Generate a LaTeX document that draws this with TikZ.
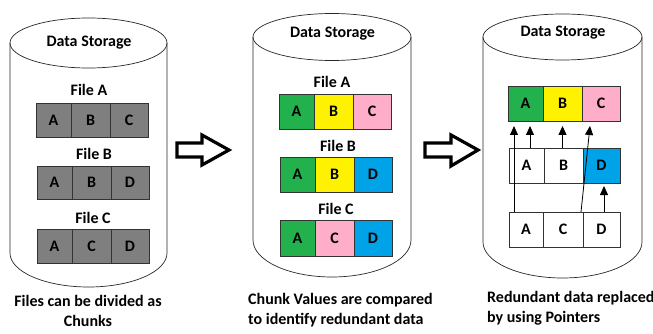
\documentclass[tikz,border=0pt]{standalone}
\usepackage{fontspec}
\setmainfont{Carlito}
\usetikzlibrary{arrows.meta}
\definecolor{cgray}{HTML}{7F7F7F}
\definecolor{cgreen}{HTML}{22B14C}
\definecolor{cyellow}{HTML}{FFF200}
\definecolor{cpink}{HTML}{FFAEC9}
\definecolor{cblue}{HTML}{00A2E8}
\newcommand\mycell[7]{%
  \node[cellbox, fill=#6, minimum width={(#3-#2)*1pt}, minimum height={(#5-#4)*1pt}]
    (#1) at ({(#2+#3)/2},{(#4+#5)/2}) {#7};}
\newcommand\mycyl[6]{% left, right, top center y, top ry, bottom y, bottom ry
  \pgfmathsetmacro\cx{(#1+#2)/2}\pgfmathsetmacro\rx{(#2-#1)/2}
  \draw[cylline] (#1,#3) -- (#1,#5)
     arc[start angle=180, end angle=360, x radius=\rx pt, y radius=#6pt]
     -- (#2,#3);
  \draw[cylline] (\cx,#3) ellipse[x radius=\rx pt, y radius=#4pt];}
\begin{document}
\begin{tikzpicture}[x=1pt,y=-1pt,
  cylline/.style={draw=black!85, line width=0.7pt},
  cellbox/.style={draw=black!80, line width=0.8pt, inner sep=0pt, outer sep=0pt,
     font=\bfseries\fontsize{16}{16}\selectfont, text=black},
  lbl/.style={font=\bfseries\fontsize{16}{16}\selectfont, inner sep=0pt},
  captext/.style={font=\bfseries\fontsize{16}{20}\selectfont, inner sep=0pt},
  ptr/.style={draw=black, line width=0.8pt, -{Triangle[width=8pt,length=9pt]}},
  blockarrow/.style={draw=black, line width=3.2pt, fill=white, line join=miter}]
\useasboundingbox (0,0) rectangle (653,334);

% ---------- cylinder 1 ----------
\mycyl{10}{167}{43}{25}{253}{34}
\node[lbl] (t1) at (89,43) {Data Storage};
\node[lbl] (f1a) at (89,90) {File A};
\mycell{aA}{36}{71}{103}{137}{cgray}{A}
\mycell{aB}{71}{110}{103}{137}{cgray}{B}
\mycell{aC}{110}{148}{103}{137}{cgray}{C}
\node[lbl] (f1b) at (94,154) {File B};
\mycell{bA}{37}{72}{166}{199}{cgray}{A}
\mycell{bB}{72}{111}{166}{199}{cgray}{B}
\mycell{bD}{111}{149}{166}{199}{cgray}{D}
\node[lbl] (f1c) at (93,218) {File C};
\mycell{cA}{37}{72}{229}{263}{cgray}{A}
\mycell{cC}{72}{111}{229}{263}{cgray}{C}
\mycell{cD}{111}{149}{229}{263}{cgray}{D}
\node[captext, align=center] (cap1) at (88,311) {Files can be divided as\\Chunks};

% ---------- block arrow 1 ----------
\draw[blockarrow] (177,143) -- (202,143) -- (202,135) -- (229,150) -- (202,165) -- (202,157) -- (177,157) -- cycle;

% ---------- cylinder 2 ----------
\mycyl{253}{411}{37}{23.5}{240}{37}
\node[lbl] (t2) at (332.5,34) {Data Storage};
\node[lbl] (f2a) at (332,82) {File A};
\mycell{dA}{279}{314}{94}{129}{cgreen}{A}
\mycell{dB}{314}{353}{94}{129}{cyellow}{B}
\mycell{dC}{353}{391}{94}{129}{cpink}{C}
\node[lbl] (f2b) at (338,146) {File B};
\mycell{eA}{280}{315}{157}{192}{cgreen}{A}
\mycell{eB}{315}{354}{157}{192}{cyellow}{B}
\mycell{eD}{354}{392}{157}{192}{cblue}{D}
\node[lbl] (f2c) at (336,209) {File C};
\mycell{gA}{280}{315}{220}{256}{cgreen}{A}
\mycell{gC}{315}{354}{220}{256}{cpink}{C}
\mycell{gD}{354}{392}{220}{256}{cblue}{D}
\node[captext, align=left, anchor=west] (cap2) at (248,310.5) {Chunk Values are compared\\to identify redundant data};

% ---------- block arrow 2 ----------
\draw[blockarrow] (425,143) -- (451,143) -- (451,135) -- (478,150) -- (451,166) -- (451,157) -- (425,157) -- cycle;

% ---------- cylinder 3 ----------
\mycyl{483}{642}{37}{23}{242}{36}
\node[lbl] (t3) at (563,33) {Data Storage};
\mycell{r1A}{508}{543}{86}{121}{cgreen}{A}
\mycell{r1B}{543}{582}{86}{121}{cyellow}{B}
\mycell{r1C}{582}{620}{86}{121}{cpink}{C}
\mycell{r2A}{509}{544}{148}{183}{white}{A}
\mycell{r2B}{544}{583}{148}{183}{white}{B}
\mycell{r2D}{583}{620}{148}{183}{cblue}{D}
\mycell{r3A}{509}{543}{212}{247}{white}{A}
\mycell{r3C}{543}{583}{212}{247}{white}{C}
\mycell{r3D}{583}{620}{212}{247}{white}{D}
\draw[ptr] ([xshift=5pt]r3A.north west) -- ([xshift=6pt,yshift=-5pt]r1A.south west);
\draw[ptr] ([xshift=21pt]r2A.north west) -- ([xshift=22pt,yshift=-5pt]r1A.south west);
\draw[ptr] ([xshift=-1pt]r2B.north) -- ([yshift=-5pt]r1B.south);
\draw[ptr] ([xshift=-2pt]r3C.north east) -- ([xshift=8pt,yshift=-5pt]r1C.south west);
\draw[ptr] ([xshift=2.5pt]r3D.north) -- ([xshift=2.5pt,yshift=-3pt]r2D.south);
\node[captext, align=left, anchor=west] (cap3) at (487,308) {Redundant data replaced\\by using Pointers};
\end{tikzpicture}
\end{document}
